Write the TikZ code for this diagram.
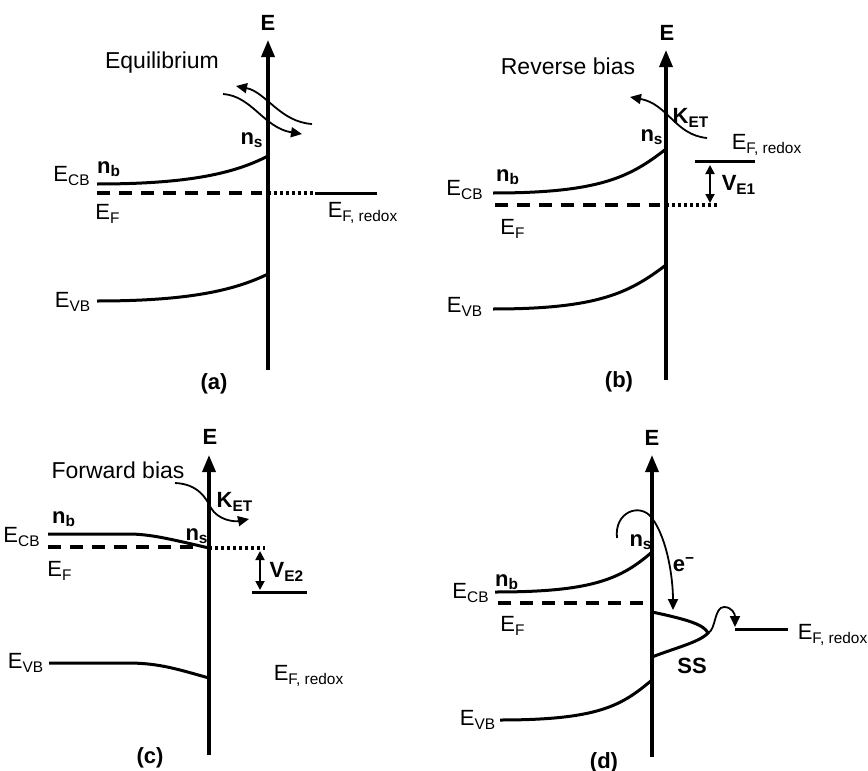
\documentclass[tikz,border=0pt]{standalone}
\usepackage{fontspec}
\setmainfont{Liberation Sans}
\usetikzlibrary{calc, positioning}
\usetikzlibrary{arrows.meta}

\newcommand{\Esub}[1]{E\textsubscript{#1}}
\newcommand{\Eredox}{E\textsubscript{F, redox}}

\begin{document}
\begin{tikzpicture}[x=0.5pt,y=-0.5pt,
  axis/.style={line width=1.7pt,-{Triangle[length=8.5pt,width=6.5pt]}},
  band/.style={line width=1.5pt},
  fermi/.style={line width=1.6pt,dash pattern=on 6.5pt off 4.5pt},
  dotline/.style={line width=1.6pt,dash pattern=on 1.5pt off 1.5pt},
  flow/.style={line width=0.9pt,-{Triangle[length=5.5pt,width=5pt]}},
  gap/.style={line width=0.9pt,{Triangle[length=4.5pt,width=4.5pt]}-{Triangle[length=4.5pt,width=4.5pt]}},
  lbl/.style={inner sep=0pt,font=\fontsize{11}{13}\selectfont},
  bld/.style={inner sep=0pt,font=\fontsize{11}{13}\selectfont\bfseries}]
\useasboundingbox (0,0) rectangle (868,771);

% (a) equilibrium
\coordinate (aB) at (268,370);
\coordinate (aT) at (268,40);
\coordinate (aC) at (268,156);
\coordinate (aV) at (268,274);
\draw[axis] (aB) -- (aT);
\draw[band] (97,184) .. controls (190,184) and (235,173) .. (aC);
\draw[band] (97,301) .. controls (190,301) and (235,290) .. (aV);
\draw[fermi] (97,193) -- (262,193);
\draw[dotline] (268,193) -- (315,193);
\draw[band] (315,193) -- (377,193);
\draw[flow] (312,124) .. controls (280,122) and (266,92) .. (236,86);
\draw[flow] (223,94) .. controls (252,96) and (264,128) .. (302,134);
\node[bld] (aE) at (268,23) {E};
\node[lbl,font=\fontsize{11.5}{13}\selectfont] (aEq) at (162,63) {Equilibrium};
\node[bld] (aNs) at (252,140) {n\textsubscript{s}};
\node[bld] (aNb) at (109,169) {n\textsubscript{b}};
\node[lbl] (aCB) at (72,176) {\Esub{CB}};
\node[lbl] (aF) at (108,214) {\Esub{F}};
\node[lbl] (aR) at (363,213) {\Eredox};
\node[lbl] (aVB) at (73,302) {\Esub{VB}};
\node[bld] (aLab) at (214,384) {(a)};

% (b) reverse bias
\coordinate (bB) at (666,380);
\coordinate (bT) at (666,50);
\coordinate (bC) at (666,149);
\coordinate (bV) at (666,265);
\draw[axis] (bB) -- (bT);
\draw[band] (493,193) .. controls (600,193) and (630,177) .. (bC);
\draw[band] (493,309) .. controls (600,309) and (630,292) .. (bV);
\draw[fermi] (495,205) -- (660,205);
\draw[dotline] (666,205) -- (718,205);
\draw[band] (695,161) -- (755,161);
\coordinate (bG1) at (710,165);
\coordinate (bG2) at (710,203);
\draw[gap] (bG1) -- (bG2);
\draw[flow] (707,138) .. controls (675,135) and (668,104) .. (630,97);
\node[bld] (bE) at (667,33) {E};
\node[lbl,font=\fontsize{11.5}{13}\selectfont] (bRev) at (568,66) {Reverse bias};
\node[bld] (bK) at (691,118) {K\textsubscript{ET}};
\node[bld] (bNs) at (652,137) {n\textsubscript{s}};
\node[lbl] (bR) at (767,145) {\Eredox};
\node[bld] (bV1) at (739,185) {V\textsubscript{E1}};
\node[bld] (bNb) at (508,177) {n\textsubscript{b}};
\node[lbl] (bCB) at (465,190) {\Esub{CB}};
\node[lbl] (bF) at (513,229) {\Esub{F}};
\node[lbl] (bVB) at (465,307) {\Esub{VB}};
\node[bld] (bLab) at (619,382) {(b)};

% (c) forward bias
\coordinate (cB) at (209,755);
\coordinate (cT) at (209,455);
\coordinate (cC) at (209,548);
\coordinate (cV) at (209,678);
\draw[axis] (cB) -- (cT);
\draw[band] (48,534) -- (128,534) .. controls (150,534) and (170,539) .. (cC);
\draw[band] (49,663) -- (128,663) .. controls (160,663) and (180,670) .. (cV);
\draw[fermi] (48,547) -- (200,547);
\draw[dotline] (209,548) -- (265,548);
\draw[band] (252,592) -- (307,592);
\coordinate (cG1) at (260,551);
\coordinate (cG2) at (260,590);
\draw[gap] (cG1) -- (cG2);
\draw[flow] (175,483) .. controls (198,484) and (206,498) .. (211,508)
  .. controls (218,520) and (234,522) .. (249,519);
\node[bld] (cE) at (210,437) {E};
\node[lbl,font=\fontsize{11.5}{13}\selectfont] (cFwd) at (118,470) {Forward bias};
\node[bld] (cK) at (235,502) {K\textsubscript{ET}};
\node[bld] (cNs) at (197,536) {n\textsubscript{s}};
\node[bld] (cNb) at (64,519) {n\textsubscript{b}};
\node[lbl] (cCB) at (22,537) {\Esub{CB}};
\node[lbl] (cF) at (60,571) {\Esub{F}};
\node[bld] (cV2) at (287,572) {V\textsubscript{E2}};
\node[lbl] (cVB) at (26,663) {\Esub{VB}};
\node[lbl] (cR) at (309,676) {\Eredox};
\node[bld] (cLab) at (150,758) {(c)};

% (d) surface states
\coordinate (dB) at (652,757);
\coordinate (dT) at (652,455);
\coordinate (dC) at (652,552);
\coordinate (dV) at (652,680);
\coordinate (dS1) at (652,612);
\coordinate (dPk) at (708,633);
\coordinate (dS2) at (652,657);
\draw[axis] (dB) -- (dT);
\draw[band] (495,592) .. controls (590,592) and (620,580) .. (dC);
\draw[band] (500,720) .. controls (600,720) and (622,705) .. (dV);
\draw[fermi] (498,603) -- (648,603);
\draw[band] (dS1) .. controls (690,620) and (704,625) .. (dPk)
  .. controls (700,642) and (675,648) .. (dS2);
\draw[band] (735,629) -- (788,629);
\draw[flow] (dPk) .. controls (716,630) and (714,607) .. (724,607)
  .. controls (732,607) and (735,614) .. (735,627);
\draw[flow] (617,538) .. controls (614,512) and (640,502) .. (652,518)
  .. controls (668,540) and (673,580) .. (673,610);
\node[bld] (dE) at (652,438) {E};
\node[bld] (dNs) at (641,542) {n\textsubscript{s}};
\node[bld] (dEl) at (684,565) {e\textsuperscript{−}};
\node[bld] (dNb) at (507,582) {n\textsubscript{b}};
\node[lbl] (dCB) at (471,593) {\Esub{CB}};
\node[lbl] (dF) at (513,626) {\Esub{F}};
\node[lbl] (dR) at (833,635) {\Eredox};
\node[bld] (dSS) at (692,666) {SS};
\node[lbl] (dVB) at (478,720) {\Esub{VB}};
\node[bld] (dLab) at (604,763) {(d)};
\end{tikzpicture}
\end{document}
